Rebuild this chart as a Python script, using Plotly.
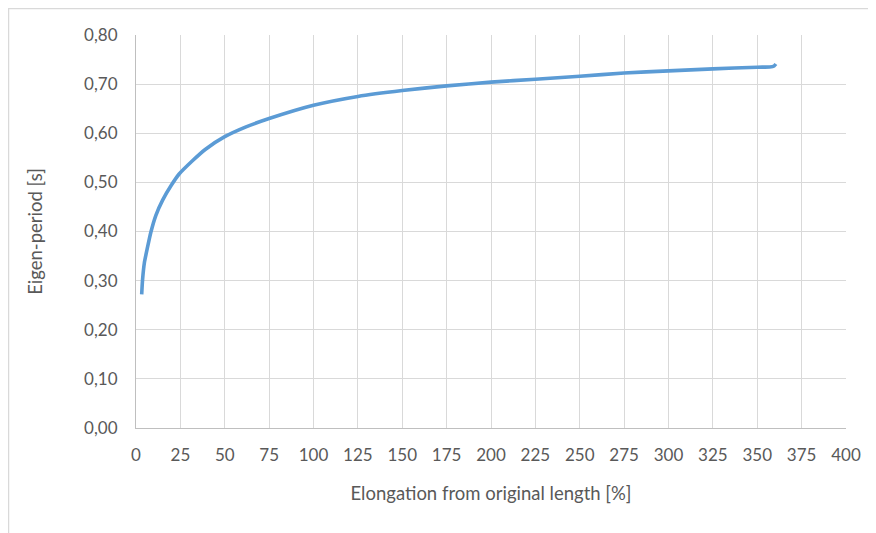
import plotly.graph_objects as go

elongation = [3.2, 3.7, 4.7, 6.5, 8.4, 11.2, 15, 19.7, 24.3, 31.8, 39, 50, 62, 75,
              100, 125, 150, 175, 200, 225, 250, 275, 300, 325, 350, 357, 359.5, 360.5]
period = [0.272, 0.302, 0.336, 0.368, 0.399, 0.433, 0.464, 0.493, 0.517, 0.544, 0.567,
          0.593, 0.613, 0.630, 0.657, 0.675, 0.687, 0.6965, 0.704, 0.710, 0.716, 0.7225,
          0.727, 0.731, 0.7345, 0.735, 0.737, 0.741]

x_ticks = list(range(0, 401, 25))
y_ticks = [0.0, 0.1, 0.2, 0.3, 0.4, 0.5, 0.6, 0.7, 0.8]

FONT = "Lato, 'Open Sans', sans-serif"
TXT = "#595959"

fig = go.Figure()
fig.add_trace(go.Scatter(x=elongation, y=period, mode="lines",
                         line=dict(color="#5b9bd5", width=3.6, shape="spline", smoothing=0.6),
                         showlegend=False, hoverinfo="x+y"))

fig.update_layout(
    width=868, height=525,
    margin=dict(l=128, r=30, t=27, b=105),
    paper_bgcolor="white", plot_bgcolor="white",
    separators=", ",
    font=dict(family=FONT, color=TXT, size=17),
    shapes=[dict(type="rect", xref="paper", yref="paper",
                 x0=-0.1796, x1=1.1, y0=-0.4, y1=1.0675,
                 line=dict(color="#d9d9d9", width=1.5), layer="below")],
)
fig.update_xaxes(range=[0, 400], tickvals=x_ticks, ticktext=[str(v) for v in x_ticks],
                 showgrid=True, gridcolor="#d9d9d9", gridwidth=1,
                 showline=True, linecolor="#bfbfbf", linewidth=1.2,
                 zeroline=False, ticks="", ticklabelstandoff=11,
                 tickfont=dict(size=17, color=TXT, family=FONT),
                 title=dict(text="Elongation from original length [%]",
                            font=dict(size=18.5, color=TXT, family=FONT), standoff=23))
fig.update_yaxes(range=[0, 0.8], tickvals=y_ticks, tickformat=".2f",
                 showgrid=True, gridcolor="#d9d9d9", gridwidth=1,
                 showline=True, linecolor="#bfbfbf", linewidth=1.2,
                 zeroline=False, ticks="", ticklabelstandoff=14,
                 tickfont=dict(size=17, color=TXT, family=FONT),
                 title=dict(text="Eigen-period [s]",
                            font=dict(size=18.5, color=TXT, family=FONT), standoff=36))

fig.write_html("out.html")
